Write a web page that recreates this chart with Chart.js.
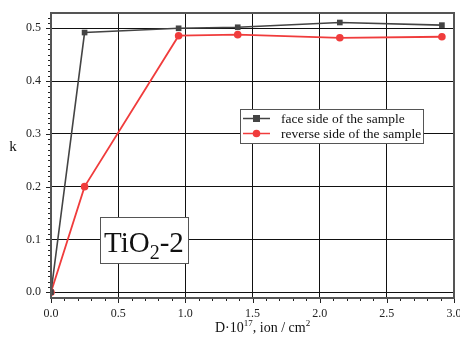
<!DOCTYPE html>
<html><head><meta charset="utf-8">
<script src="https://cdn.jsdelivr.net/npm/chart.js@4/dist/chart.umd.min.js"></script>
<style>html,body{margin:0;padding:0;background:#fff}#wrap{width:460px;height:340px}</style>
</head><body><div id="wrap"><canvas id="c" width="460" height="340"></canvas></div>
<script>
const faceX = [0, 0.25, 0.95, 1.39, 2.15, 2.91];
const faceK = [0, 0.492, 0.500, 0.502, 0.511, 0.506];
const revX = [0, 0.25, 0.95, 1.39, 2.15, 2.91];
const revK = [0, 0.200, 0.486, 0.488, 0.482, 0.484];
const seriesLabels = ["face side of the sample", "reverse side of the sample"];
const xTickLabels = ["0.0","0.5","1.0","1.5","2.0","2.5","3.0"];
const xTitleParts = [["D·10", false], ["17", true], [", ion / cm", false], ["2", true]];
const yTitle = "k";
const sampleLabel = ["TiO", "2", "-2"];

const FONT = "'Liberation Serif', 'Times New Roman', serif";
const colFace = "#444444";
const colRev = "#f03c3c";

const decor = {
  id: 'decor',
  afterDraw(chart) {
    const ctx = chart.ctx, a = chart.chartArea, xs = chart.scales.x, ys = chart.scales.y;
    ctx.save();
    ctx.strokeStyle = '#222'; ctx.lineWidth = 1;
    for (let i = 0; i <= 52; i++) {
      const y = Math.round(ys.getPixelForValue(i / 100)) + 0.5;
      const len = (i % 10 === 0) ? 5 : 3;
      ctx.beginPath(); ctx.moveTo(a.left - len, y); ctx.lineTo(a.left, y); ctx.stroke();
    }
    for (let i = 0; i <= 30; i++) {
      const x = Math.round(xs.getPixelForValue(i / 10)) + 0.5;
      const len = (i % 5 === 0) ? 5 : 3;
      ctx.beginPath(); ctx.moveTo(x, a.bottom); ctx.lineTo(x, a.bottom + len); ctx.stroke();
    }
    ctx.strokeStyle = '#555'; ctx.lineWidth = 2;
    ctx.strokeRect(a.left, a.top, a.right - a.left, a.bottom - a.top);
    // axis titles
    ctx.fillStyle = '#111';
    ctx.font = "15px " + FONT;
    ctx.textAlign = 'center'; ctx.textBaseline = 'middle';
    ctx.fillText(yTitle, 13, 147);
    ctx.textAlign = 'left'; ctx.textBaseline = 'alphabetic';
    let tx = 215; const tb = 332;
    xTitleParts.forEach(([t, sup]) => {
      ctx.font = (sup ? "9px " : "14px ") + FONT;
      ctx.fillText(t, tx, sup ? tb - 6 : tb);
      tx += ctx.measureText(t).width;
    });
    // legend
    const lx = 240, ly = 109, lw = 183, lh = 34;
    ctx.fillStyle = '#fff'; ctx.fillRect(lx, ly, lw, lh);
    ctx.strokeStyle = '#555'; ctx.lineWidth = 1;
    ctx.strokeRect(lx + 0.5, ly + 0.5, lw, lh);
    const rows = [[colFace, 'rect'], [colRev, 'circle']];
    chart.data.datasets.forEach((ds, i) => {
      const yy = ly + 9.5 + i * 15;
      ctx.strokeStyle = rows[i][0]; ctx.lineWidth = 1.5;
      ctx.beginPath(); ctx.moveTo(lx + 3, yy); ctx.lineTo(lx + 30, yy); ctx.stroke();
      ctx.fillStyle = rows[i][0];
      if (rows[i][1] === 'rect') { ctx.fillRect(lx + 13, yy - 3.5, 7, 7); }
      else { ctx.beginPath(); ctx.arc(lx + 16.5, yy, 3.8, 0, Math.PI * 2); ctx.fill(); }
      ctx.fillStyle = '#111'; ctx.font = "13.5px " + FONT;
      ctx.textAlign = 'left'; ctx.textBaseline = 'middle';
      ctx.fillText(ds.label, lx + 41, yy + 0.5);
    });
    // sample label box
    const bx = 100, by = 217, bw = 88, bh = 46;
    ctx.fillStyle = '#fff'; ctx.fillRect(bx, by, bw, bh);
    ctx.strokeStyle = '#555'; ctx.lineWidth = 1;
    ctx.strokeRect(bx + 0.5, by + 0.5, bw, bh);
    ctx.fillStyle = '#111'; ctx.textAlign = 'left'; ctx.textBaseline = 'alphabetic';
    ctx.font = "29px " + FONT;
    tx = bx + 4; const base = by + 35;
    ctx.fillText(sampleLabel[0], tx, base); tx += ctx.measureText(sampleLabel[0]).width;
    ctx.font = "20px " + FONT;
    ctx.fillText(sampleLabel[1], tx, base + 7); tx += ctx.measureText(sampleLabel[1]).width;
    ctx.font = "29px " + FONT;
    ctx.fillText(sampleLabel[2], tx, base);
    ctx.restore();
  }
};

new Chart(document.getElementById('c'), {
  type: 'line',
  data: {
    datasets: [
      { label: seriesLabels[0], data: faceX.map((x, i) => ({x, y: faceK[i]})),
        borderColor: colFace, backgroundColor: colFace, borderWidth: 1.6,
        pointStyle: 'rect', pointRadius: 4, pointBorderWidth: 0, tension: 0 },
      { label: seriesLabels[1], data: revX.map((x, i) => ({x, y: revK[i]})),
        borderColor: colRev, backgroundColor: colRev, borderWidth: 1.8,
        pointStyle: 'circle', pointRadius: 3.8, pointBorderWidth: 0, tension: 0 }
    ]
  },
  options: {
    responsive: false, animation: false, devicePixelRatio: 1,
    layout: { padding: { top: 13, right: 6, left: 0, bottom: 0 } },
    plugins: { legend: { display: false }, tooltip: { enabled: false } },
    scales: {
      x: {
        type: 'linear', min: 0, max: 3,
        afterFit(s) { s.height = 42; s.paddingLeft = 0; s.paddingRight = 0; },
        ticks: { stepSize: 0.5, padding: 9, maxRotation: 0, color: '#222',
          font: { family: FONT, size: 12 },
          callback: (v) => xTickLabels[Math.round(v * 2)] ?? '' },
        grid: { color: '#111', lineWidth: 1, drawTicks: false },
        border: { display: false }
      },
      y: {
        type: 'linear', min: -0.011, max: 0.529,
        afterFit(s) { s.width = 51; s.paddingTop = 0; s.paddingBottom = 0; },
        ticks: { stepSize: 0.1, includeBounds: false, padding: 10, color: '#222',
          font: { family: FONT, size: 12 },
          callback: (v) => v.toFixed(1) },
        grid: { color: '#111', lineWidth: 1, drawTicks: false },
        border: { display: false }
      }
    }
  },
  plugins: [decor]
});
</script></body></html>
